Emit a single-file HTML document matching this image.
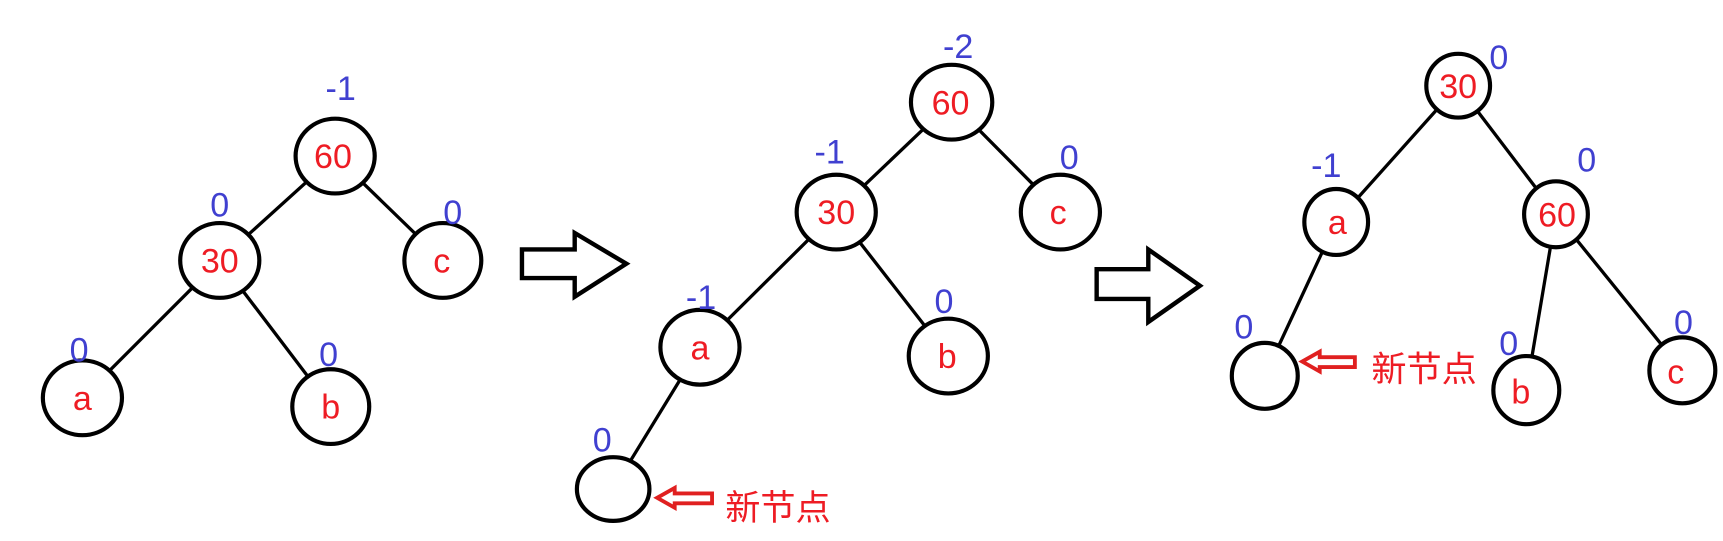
<!DOCTYPE html>
<html><head><meta charset="utf-8"><style>html,body{margin:0;padding:0;background:#fff}svg{display:block}</style></head><body>
<svg width="1723" height="541" viewBox="0 0 1568 492.3" preserveAspectRatio="none" xmlns="http://www.w3.org/2000/svg">
<g stroke="#000" stroke-width="3" fill="none">
<line x1="305" y1="142" x2="200" y2="237"/><line x1="305" y1="142" x2="403" y2="237"/>
<line x1="200" y1="237" x2="75" y2="362"/><line x1="200" y1="237" x2="301" y2="370"/>
<line x1="866" y1="93" x2="761" y2="193"/><line x1="866" y1="93" x2="965" y2="193"/>
<line x1="761" y1="193" x2="637" y2="316"/><line x1="761" y1="193" x2="863" y2="324"/>
<line x1="637" y1="316" x2="558" y2="445"/>
<line x1="1327" y1="78" x2="1216" y2="202"/><line x1="1327" y1="78" x2="1416" y2="195"/>
<line x1="1216" y1="202" x2="1151" y2="342"/><line x1="1416" y1="195" x2="1389" y2="355"/><line x1="1416" y1="195" x2="1531" y2="337"/>
</g>
<g stroke="#000" stroke-width="3.8" fill="#fff">
<ellipse cx="305" cy="142" rx="36" ry="34"/><ellipse cx="200" cy="237" rx="36" ry="34"/><ellipse cx="403" cy="237" rx="35" ry="34"/>
<ellipse cx="75" cy="362" rx="36" ry="34"/><ellipse cx="301" cy="370" rx="35" ry="34"/>
<ellipse cx="866" cy="93" rx="37" ry="34"/><ellipse cx="761" cy="193" rx="36" ry="34"/><ellipse cx="965" cy="193" rx="36" ry="34"/>
<ellipse cx="637" cy="316" rx="36" ry="34"/><ellipse cx="863" cy="324" rx="36" ry="34"/><ellipse cx="558" cy="445" rx="33" ry="29"/>
<ellipse cx="1327" cy="78" rx="29" ry="29"/><ellipse cx="1216" cy="202" rx="29" ry="30"/><ellipse cx="1416" cy="195" rx="29" ry="30"/>
<ellipse cx="1151" cy="342" rx="30" ry="30"/><ellipse cx="1389" cy="355" rx="30" ry="31"/><ellipse cx="1531" cy="337" rx="30" ry="30"/>
</g>
<g stroke="#000" stroke-width="4" fill="#fff">
<polygon points="475,227 523,227 523,212 570,240 523,270 523,253 475,253"/>
<polygon points="998,245 1045,245 1045,227 1092,260 1045,293 1045,272 998,272"/>
</g>
<g stroke="#e02020" stroke-width="3.5" fill="#fff">
<polygon points="598,453 614,444 614,449 648,449 648,458 614,458 614,462"/>
<polygon points="1185,329 1201,320 1201,325 1233,325 1233,334 1201,334 1201,338"/>
</g>
<g fill="#ee1c24" font-family="Liberation Sans, sans-serif" font-size="31" text-anchor="middle">
<text x="303" y="153">60</text><text x="200" y="248">30</text><text x="402" y="248">c</text>
<text x="75" y="373">a</text><text x="301" y="381">b</text>
<text x="865" y="104">60</text><text x="761" y="204">30</text><text x="963" y="204">c</text>
<text x="637" y="327">a</text><text x="862" y="335">b</text>
<text x="1327" y="89">30</text><text x="1217" y="213">a</text><text x="1417" y="206">60</text>
<text x="1384" y="367">b</text><text x="1525" y="349">c</text>
</g>
<g fill="#ee1c24" font-family="Liberation Sans, Noto Sans CJK SC, sans-serif" font-size="32">
<text x="660" y="473">新节点</text><text x="1248" y="347">新节点</text>
</g>
<g fill="#4040d0" font-family="Liberation Sans, sans-serif" font-size="31" text-anchor="middle">
<text x="310" y="91">-1</text><text x="200" y="197">0</text><text x="412" y="204">0</text>
<text x="72" y="329">0</text><text x="299" y="333">0</text>
<text x="872" y="53">-2</text><text x="755" y="149">-1</text><text x="973" y="154">0</text>
<text x="638" y="281">-1</text><text x="859" y="285">0</text><text x="548" y="411">0</text>
<text x="1364" y="63">0</text><text x="1207" y="161">-1</text><text x="1444" y="156">0</text>
<text x="1132" y="308">0</text><text x="1373" y="323">0</text><text x="1532" y="304">0</text>
</g>
</svg>
</body></html>
